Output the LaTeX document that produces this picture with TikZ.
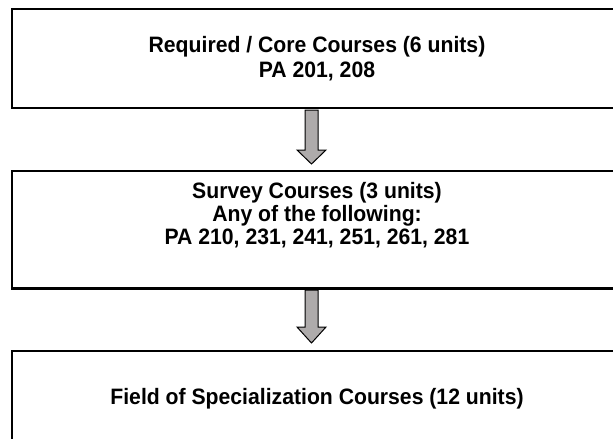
\documentclass[tikz,border=0pt]{standalone}
\usepackage{fontspec}
\setmainfont[FakeStretch=0.95]{Liberation Sans}
\definecolor{arrowgray}{RGB}{174,171,171}
\tikzset{
  box/.style={draw=black, line width=2.2pt, minimum width=610pt, inner sep=0pt},
  lbl/.style={anchor=base, inner sep=0pt, font=\bfseries\fontsize{22.3}{24}\selectfont},
  blockarrow/.style={draw=black, line width=1pt, fill=arrowgray, line join=miter}
}
\begin{document}
\begin{tikzpicture}[x=1pt, y={(0pt,-1pt)}]
\useasboundingbox (0,0) rectangle (613,439);
\begin{scope}
\clip (0,0) rectangle (613,439);
% boxes
\node[box, minimum height=99pt] (b1) at (317,58.5) {};
\node[box, minimum height=117.5pt] (b2) at (317,229.75) {};
\node[box, minimum height=120pt] (b3) at (317,411) {};
% texts
\node[lbl] (t11) at (317,52.5) {Required / Core Courses (6 units)};
\node[lbl] (t12) at (317,77) {PA 201, 208};
\node[lbl] (t21) at (317,198) {Survey Courses (3 units)};
\node[lbl] (t22) at (317,221.3) {Any of the following:};
\node[lbl] (t23) at (317,244.3) {PA 210, 231, 241, 251, 261, 281};
\node[lbl] (t31) at (317,404) {Field of Specialization Courses (12 units)};
% block arrows
\draw[blockarrow] (305,110) -- (318,110) -- (318,150) -- (326,150) -- (311.5,164)
  -- (297,150) -- (305,150) -- cycle;
\draw[blockarrow] (305,290) -- (318,290) -- (318,327) -- (326,327) -- (311.5,343)
  -- (297,327) -- (305,327) -- cycle;
\end{scope}
\end{tikzpicture}
\end{document}
